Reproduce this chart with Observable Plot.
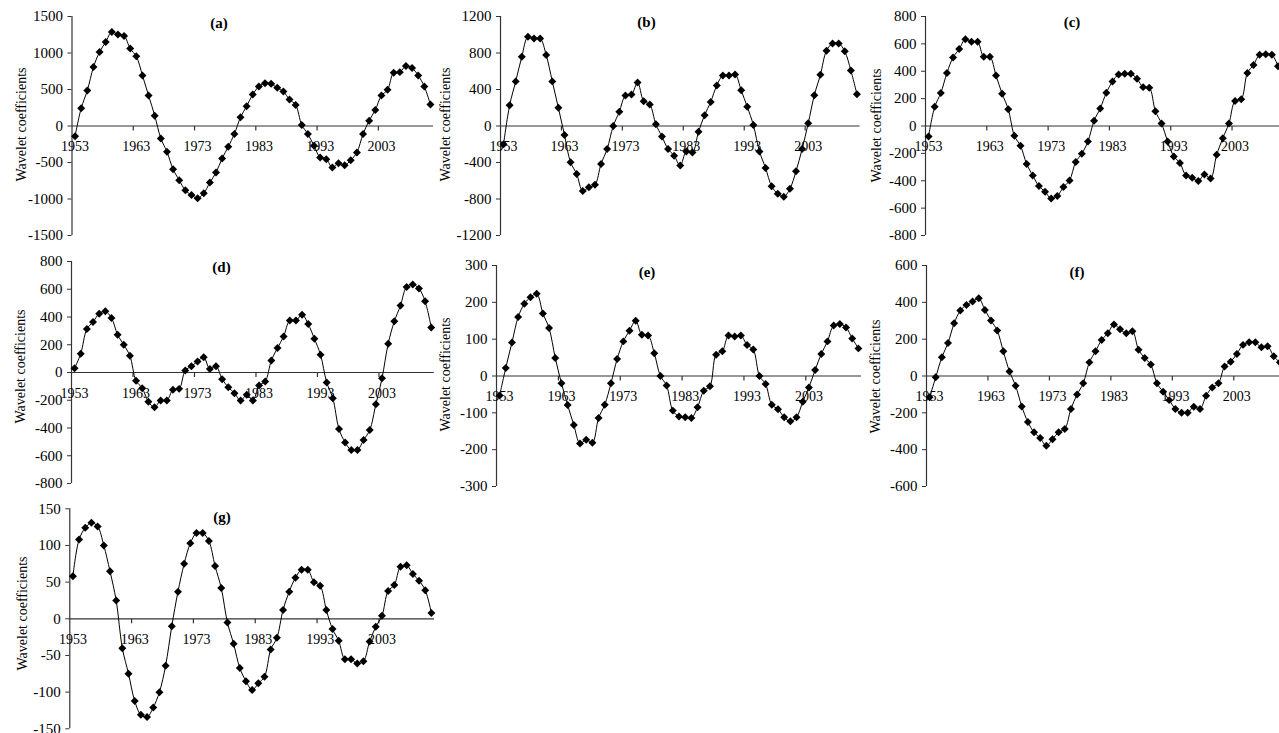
<!DOCTYPE html>
<html>
<head>
<meta charset="utf-8">
<script src="https://cdn.jsdelivr.net/npm/d3@7"></script>
<script src="https://cdn.jsdelivr.net/npm/@observablehq/plot@0.6"></script>
<style>
  html, body { margin: 0; padding: 0; background: #fff; overflow: hidden; }
  #chart { position: relative; width: 1279px; height: 733px; }
  #chart svg { position: absolute; left: 0; top: 0; }
</style>
</head>
<body>
<div id="chart"></div>
<script>
// ---------- data ----------
const years = d3.range(1953, 2012);
const xTickYears = [1953, 1963, 1973, 1983, 1993, 2003];
const yLabel = "Wavelet coefficients";
const panelTitles = ["(a)", "(b)", "(c)", "(d)", "(e)", "(f)", "(g)"];

const seriesA = [-140, 243, 486, 807, 1014, 1151, 1289, 1252, 1234, 1060, 954, 693, 417, 142, -170, -353, -592, -743, -881, -945, -991, -922, -775, -638, -445, -284, -110, 119, 271, 431, 541, 587, 578, 523, 472, 362, 289, 14, -110, -271, -431, -454, -569, -509, -537, -468, -362, -110, 73, 220, 417, 495, 729, 738, 821, 794, 693, 541, 294];
const seriesB = [-199, 228, 489, 760, 977, 959, 959, 778, 489, 199, -98, -398, -525, -713, -670, -644, -416, -253, 0, 156, 333, 344, 478, 272, 235, 18, -116, -253, -326, -434, -279, -290, -62, 119, 264, 445, 554, 554, 565, 391, 210, 11, -279, -460, -659, -742, -775, -688, -496, -253, 29, 337, 561, 825, 905, 905, 818, 608, 348];
const seriesC = [-77, 140, 241, 388, 501, 562, 634, 615, 615, 506, 506, 369, 236, 123, -72, -145, -277, -362, -439, -480, -530, -511, -446, -398, -263, -202, -113, 39, 128, 243, 325, 376, 381, 381, 345, 284, 280, 108, 19, -113, -222, -270, -362, -378, -402, -354, -383, -210, -89, 19, 183, 195, 388, 446, 521, 525, 521, 436];
const seriesD = [31, 135, 313, 364, 424, 441, 393, 272, 200, 120, -60, -113, -210, -251, -202, -202, -125, -118, 15, 45, 80, 110, 25, 45, -48, -106, -149, -202, -161, -202, -94, -65, 87, 176, 260, 374, 374, 417, 349, 243, 128, -72, -186, -407, -504, -559, -559, -487, -415, -229, -41, 207, 369, 482, 617, 634, 605, 513, 325];
const seriesE = [-53, 22, 91, 160, 196, 214, 223, 170, 130, 49, -20, -79, -133, -183, -173, -181, -114, -78, -20, 46, 94, 123, 150, 112, 110, 62, 0, -26, -94, -110, -112, -114, -85, -40, -28, 58, 67, 110, 107, 110, 84, 72, 0, -22, -78, -90, -112, -123, -112, -70, -31, 16, 60, 94, 137, 141, 132, 102, 75];
const seriesF = [-116, -7, 102, 179, 286, 355, 386, 404, 422, 359, 301, 247, 134, 25, -53, -165, -250, -306, -337, -379, -343, -306, -288, -179, -101, -40, 74, 134, 196, 232, 279, 254, 232, 243, 143, 98, 62, -40, -85, -131, -179, -199, -199, -167, -179, -107, -62, -40, 51, 78, 120, 169, 183, 183, 156, 161, 107, 74];
const seriesG = [58, 108, 124, 131, 126, 100, 65, 25, -40, -75, -112, -131, -134, -121, -100, -64, -10, 37, 75, 103, 117, 117, 106, 72, 42, -5, -34, -67, -85, -97, -88, -79, -42, -26, 12, 37, 56, 67, 67, 50, 45, 12, -14, -30, -55, -55, -61, -58, -31, -11, 4, 38, 46, 71, 73, 61, 52, 39, 8];

const ticksA = [-1500, -1000, -500, 0, 500, 1000, 1500];
const ticksB = [-1200, -800, -400, 0, 400, 800, 1200];
const ticksC = [-800, -600, -400, -200, 0, 200, 400, 600, 800];
const ticksD = [-800, -600, -400, -200, 0, 200, 400, 600, 800];
const ticksE = [-300, -200, -100, 0, 100, 200, 300];
const ticksF = [-600, -400, -200, 0, 200, 400, 600];
const ticksG = [-150, -100, -50, 0, 50, 100, 150];

// ---------- layout (pixel frame of each panel) ----------
const W = 1279, H = 733;
const layouts = [
  {left: 71.5, right: 433,   top: 16,    bottom: 235,   titleX: 218.5, titleY: 23,    labelX: 21,    labelY: 124},
  {left: 500,  right: 859.5, top: 16,    bottom: 235,   titleX: 646,   titleY: 22,    labelX: 445,   labelY: 124},
  {left: 925,  right: 1286.7,top: 16,    bottom: 235,   titleX: 1071.5,titleY: 21.5,  labelX: 876,   labelY: 125},
  {left: 71,   right: 433.8, top: 261,   bottom: 483,   titleX: 221,   titleY: 266.5, labelX: 20.5,  labelY: 366},
  {left: 496,  right: 861,   top: 265,   bottom: 486,   titleX: 646.5, titleY: 271.5, labelX: 445,   labelY: 374},
  {left: 926,  right: 1288.6,top: 265,   bottom: 486,   titleX: 1076.5,titleY: 271.5, labelX: 875.5, labelY: 376},
  {left: 69.3, right: 434,   top: 508.3, bottom: 728.3, titleX: 221.5, titleY: 516.5, labelX: 22.5,  labelY: 613}
];

const FONT = "'Liberation Serif', 'Times New Roman', serif";
const AXIS = "#333";
const tickSymbol = {draw(ctx) { ctx.moveTo(0, 0); ctx.lineTo(0, 4.5); }};

function panel(values, yTicks, title, L) {
  const data = values.map((v, i) => ({year: years[i], value: v}));
  const x0 = years[0] - 0.5, x1 = years[years.length - 1] + 0.5;
  return Plot.plot({
    width: W, height: H,
    marginLeft: L.left, marginRight: W - L.right,
    marginTop: L.top, marginBottom: H - L.bottom,
    x: {domain: [x0, x1], axis: null},
    y: {domain: [yTicks[0], yTicks[yTicks.length - 1]]},
    style: {background: "transparent", color: "black", fontFamily: FONT, fontSize: "15px", overflow: "hidden"},
    marks: [
      Plot.axisY({ticks: yTicks, tickFormat: d => String(d), tickSize: 4, tickPadding: 5, label: null, stroke: AXIS}),
      Plot.ruleX([x0], {stroke: AXIS, strokeWidth: 1.2}),
      Plot.ruleY([0], {stroke: AXIS, strokeWidth: 1.2}),
      Plot.dot(xTickYears.slice(1), {x: d => d - 0.5, y: 0, symbol: tickSymbol, r: 3, stroke: AXIS, strokeWidth: 1.2, fill: "none"}),
      Plot.text(xTickYears, {x: d => d, y: 0, text: d => String(d), dy: 21, fontSize: 14, fill: "black", lineAnchor: "middle"}),
      Plot.line(data, {x: "year", y: "value", curve: "catmull-rom", stroke: "black", strokeWidth: 1}),
      Plot.dot(data, {x: "year", y: "value", symbol: "diamond2", r: 3.6, fill: "black"}),
      Plot.text([title], {frameAnchor: "top-left", text: d => d, dx: L.titleX - L.left, dy: L.titleY - L.top,
        textAnchor: "middle", lineAnchor: "middle", fontSize: 15, fontWeight: "bold", fill: "black"}),
      Plot.text([yLabel], {frameAnchor: "top-left", text: d => d, dx: L.labelX - L.left, dy: L.labelY - L.top,
        rotate: -90, textAnchor: "middle", lineAnchor: "middle", fontSize: 14, fill: "black"})
    ]
  });
}

const allSeries = [seriesA, seriesB, seriesC, seriesD, seriesE, seriesF, seriesG];
const allTicks = [ticksA, ticksB, ticksC, ticksD, ticksE, ticksF, ticksG];
const chart = document.getElementById("chart");
allSeries.forEach((s, i) => chart.appendChild(panel(s, allTicks[i], panelTitles[i], layouts[i])));
</script>
</body>
</html>
